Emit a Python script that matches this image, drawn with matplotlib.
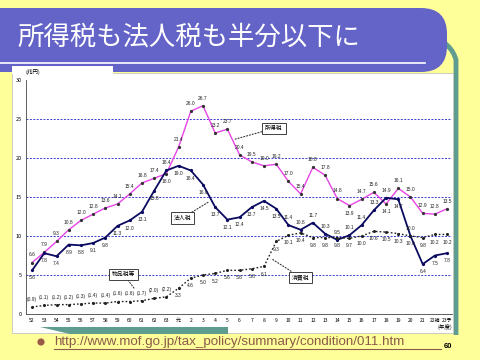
import matplotlib
matplotlib.use('Agg')
import matplotlib.pyplot as plt
from matplotlib.patches import FancyBboxPatch, Rectangle, Polygon, Circle
from matplotlib.path import Path
from matplotlib.patches import PathPatch

plt.rcParams['font.family'] = ['Noto Sans CJK JP', 'DejaVu Sans']

# ---- data ----
years = ['52', '53', '54', '55', '56', '57', '58', '59', '60', '61', '62', '63',
         '元', '2', '3', '4', '5', '6', '7', '8', '9', '10', '11', '12', '13',
         '14', '15', '16', '17', '18', '19', '20', '21', '22補', '23予']
income_tax = [6.6, 7.9, 9.3, 10.8, 12.0, 12.8, 13.6, 14.1, 15.4, 16.8, 17.4, 18.0,
              21.4, 26.0, 26.7, 23.2, 23.7, 20.4, 19.5, 19.0, 19.2, 17.0, 15.4, 18.8,
              17.8, 14.8, 13.9, 14.7, 15.6, 14.1, 16.1, 15.0, 12.9, 12.8, 13.5]
corporate_tax = [5.6, 7.8, 7.4, 8.9, 8.8, 9.1, 9.8, 11.3, 12.0, 13.1, 15.8, 18.4,
                 19.0, 18.4, 16.6, 13.7, 12.1, 12.4, 13.7, 14.5, 13.5, 11.4, 10.8, 11.7,
                 10.3, 9.5, 10.1, 11.4, 13.3, 14.9, 14.7, 10.0, 6.4, 7.5, 7.8]
# 物品税等 (first 12, in parentheses) then 消費税
consumption_tax = [0.9, 1.1, 1.2, 1.2, 1.3, 1.4, 1.4, 1.6, 1.6, 1.7, 2.0, 2.2,
                   3.3, 4.6, 5.0, 5.2, 5.6, 5.6, 5.8, 6.1, 9.3, 10.1, 10.4, 9.8,
                   9.8, 9.8, 9.7, 10.0, 10.6, 10.5, 10.3, 10.0, 9.8, 10.2, 10.2]
n_commodity = 12
yticks = [0, 5, 10, 15, 20, 25, 30]

# label placement: a = above, b = below
inc_pos = 'a' * 11 + 'b' + 'a' * 14 + 'b' + 'a' * 2 + 'b' + 'a' * 5
corp_pos = 'b' * 11 + 'a' + 'b' * 9 + 'a' * 9 + 'b' + 'a' + 'b' * 3
cons_pos = 'a' * 12 + 'b' * 23

W, H = 480, 360
fig = plt.figure(figsize=(4.8, 3.6), dpi=100)
fig.patch.set_facecolor('#FFFF99')

bg = fig.add_axes([0, 0, 1, 1])
bg.set_xlim(0, W)
bg.set_ylim(H, 0)
bg.axis('off')

teal = '#5E9C90'
# decorative teal arc on right
verts = [(432, 36), (452, 44), (456, 60), (456, 80), (456, 320), (456, 335)]
codes = [Path.MOVETO, Path.CURVE3, Path.CURVE3, Path.LINETO, Path.LINETO, Path.LINETO]
bg.add_patch(PathPatch(Path(verts, codes), fill=False, edgecolor=teal, lw=3.5))
# title bar
bg.add_patch(FancyBboxPatch((-40, 8), 487, 64, boxstyle='round,pad=0,rounding_size=26',
                            facecolor='#6464C8', edgecolor='none'))
bg.plot([0, 425], [63, 63], color='white', lw=1.2)
bg.text(17, 37, '所得税も法人税も半分以下に', color='white', fontsize=19,
        va='center', ha='left', family=['Noto Sans CJK JP'])
# chart white area
bg.add_patch(Rectangle((12, 73), 441, 260, facecolor='white', edgecolor='#BBBBBB', lw=0.5))
bg.add_patch(Rectangle((12, 66), 101, 8, facecolor='white', edgecolor='none'))
# bottom swoosh
bg.add_patch(Polygon([(40, 327), (228, 327), (228, 334), (70, 334)], closed=True,
                     facecolor=teal, edgecolor='none', zorder=3))
bg.text(33, 72, '(兆円)', fontsize=4, ha='center', va='center')
bg.text(445, 327, '(年度)', fontsize=4, ha='center', va='center')

# URL
bg.add_patch(Circle((41, 342), 3.6, facecolor='#9B5A48', edgecolor='none'))
url = 'http://www.mof.go.jp/tax_policy/summary/condition/011.htm'
bg.text(54, 342, url, fontsize=9.6, color='#8A5A4A', ha='left', va='center',
        family=['Liberation Sans'])
bg.plot([54, 441], [349, 349], color='#8A5A4A', lw=0.8)
bg.text(448, 346, '60', fontsize=5.5, fontweight='bold', ha='center', va='center',
        family=['Liberation Sans'])

# ---- chart ----
ax = fig.add_axes([26 / W, 1 - 314 / H, (452 - 26) / W, (314 - 80) / H])
ax.patch.set_alpha(0)
x = list(range(len(years)))
ax.set_xlim(-0.5, 34.4)
ax.set_ylim(0, 30)
ax.set_yticks(yticks)
ax.set_yticklabels([str(v) for v in yticks], fontsize=4)
ax.set_xticks(x)
ax.set_xticklabels(years, fontsize=3.6)
ax.tick_params(axis='both', length=0, pad=3)
for s in ['top', 'right']:
    ax.spines[s].set_visible(False)
for s in ['left', 'bottom']:
    ax.spines[s].set_linewidth(0.6)
    ax.spines[s].set_color('#444444')
for v in yticks[1:-1]:
    ax.axhline(v, color='#3C3CD0', lw=0.7, ls=(0, (2, 1.5)), zorder=1)

ax.plot(x, income_tax, color='#E844E8', lw=1.0, marker='o', ms=1.3,
        mfc='#333333', mec='#333333', zorder=3)
ax.plot(x, corporate_tax, color='#0A0A60', lw=1.3, marker='o', ms=1.3,
        mfc='#0A0A60', mec='#0A0A60', zorder=3)
ax.plot(x, consumption_tax, color='#222222', lw=1.0, ls=(0, (1.2, 1.5)), marker='o',
        ms=1.2, mfc='#222222', mec='#222222', zorder=3)

def put_labels(vals, pos, paren_n=0, dy=5.5):
    for i, v in enumerate(vals):
        t = f'{v:.1f}'
        if i < paren_n:
            t = f'({t})'
        off = dy if pos[i] == 'a' else -dy
        ax.annotate(t, (i, v), xytext=(0, off), textcoords='offset points',
                    ha='center', va='center', fontsize=3.5, color='#222222', zorder=5,
                    family=['Liberation Sans'])

put_labels(income_tax, inc_pos)
put_labels(corporate_tax, corp_pos)
put_labels(consumption_tax, cons_pos, paren_n=n_commodity)

def callout(text, box_xy, tip_xy):
    ax.annotate(text, xy=tip_xy, xytext=box_xy, textcoords='data', fontsize=4.2,
                ha='center', va='center', zorder=6,
                bbox=dict(boxstyle='square,pad=0.5', fc='white', ec='#222222', lw=0.6),
                arrowprops=dict(arrowstyle='-', ls=':', lw=0.8, color='#333333',
                                shrinkA=0, shrinkB=0))

callout('所得税', (19.8, 23.8), (16.6, 22.4))
callout('法人税', (12.3, 12.3), (14.5, 14.4))
callout('物品税等', (7.5, 5.1), (8.4, 3.2))
callout('消費税', (22.0, 4.7), (19.7, 7.0))

fig.savefig('out.png', dpi=100, facecolor=fig.get_facecolor())
